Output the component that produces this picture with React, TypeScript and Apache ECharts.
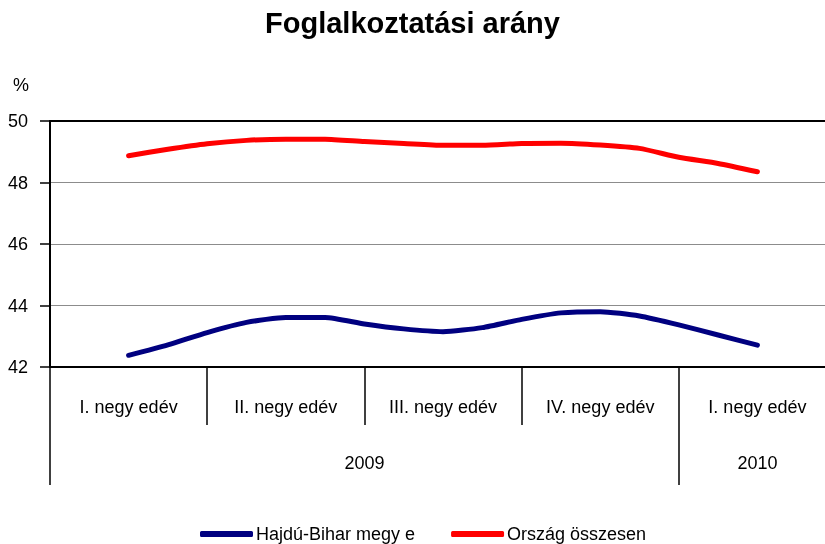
import React, { useEffect, useRef } from "react";
import * as echarts from "echarts";

const TITLE = "Foglalkoztatási arány";
const QUARTERS = ["I. negy edév", "II. negy edév", "III. negy edév", "IV. negy edév", "I. negy edév"];
const YEARS = [
  { label: "2009", from: 0, to: 4 },
  { label: "2010", from: 4, to: 5 },
];
const SERIES_NAMES = ["Hajdú-Bihar megy e", "Ország összesen"];
// readings at quarter-of-a-quarter steps, from I. 2009 to I. 2010
const HAJDU = [42.38, 42.72, 43.12, 43.45, 43.61, 43.61, 43.4, 43.24, 43.15, 43.28, 43.55, 43.76, 43.8, 43.66, 43.37, 43.04, 42.71];
const ORSZAG = [48.87, 49.08, 49.26, 49.37, 49.41, 49.41, 49.33, 49.27, 49.21, 49.21, 49.27, 49.28, 49.22, 49.11, 48.82, 48.62, 48.35];
const Y_MIN = 42;
const Y_MAX = 50;
const Y_STEP = 2;

const FONT = "'Liberation Sans', Arial, sans-serif";

export default function App() {
  const ref = useRef<HTMLDivElement>(null);
  useEffect(() => {
    document.body.style.margin = "0";
    const chart = echarts.init(ref.current!, undefined, { renderer: "svg" });
    const stepsPerQuarter = (HAJDU.length - 1) / (QUARTERS.length - 1);
    const toXY = (arr: number[]) => arr.map((v, i) => [i / stepsPerQuarter, v]);

    const nSlots = QUARTERS.length * 2 + 1;
    const slotNames = Array.from({ length: nSlots }, (_, i) => "s" + i);
    const yearLabelAt: Record<number, string> = {};
    const yearTickAt = new Set<number>();
    YEARS.forEach((y) => {
      yearLabelAt[y.from + y.to] = y.label;
      yearTickAt.add(y.from * 2);
      yearTickAt.add(y.to * 2);
    });

    chart.setOption({
      animation: false,
      textStyle: { fontFamily: FONT },
      title: {
        text: TITLE,
        left: "center",
        top: 3,
        textStyle: { fontFamily: FONT, fontSize: 29, fontWeight: "bold", color: "#000" },
      },
      legend: {
        top: 520,
        left: 195,
        icon: "roundRect",
        itemWidth: 53,
        itemHeight: 6,
        itemGap: 36,
        textStyle: { fontFamily: FONT, fontSize: 18, color: "#000", padding: [0, 0, 0, -2] },
        data: SERIES_NAMES,
      },
      grid: {
        left: 50,
        top: 121,
        width: 786,
        height: 246,
        containLabel: false,
        outerBoundsMode: "none",
      },
      xAxis: [
        { type: "value", min: -0.5, max: QUARTERS.length - 0.5, show: false },
        {
          type: "category",
          position: "bottom",
          data: QUARTERS,
          axisLine: { show: true, lineStyle: { color: "#000", width: 2 } },
          axisTick: { show: true, length: 58, interval: 0, lineStyle: { color: "#000", width: 1.5 } },
          axisLabel: { interval: 0, margin: 31, fontSize: 18, color: "#000", fontFamily: FONT },
        },
        {
          type: "category",
          position: "bottom",
          offset: 58,
          boundaryGap: false,
          data: slotNames,
          axisLine: { show: false },
          axisTick: {
            show: true,
            length: 60,
            interval: (i: number) => yearTickAt.has(i),
            lineStyle: { color: "#000", width: 1.5 },
          },
          axisLabel: {
            interval: 0,
            margin: 29,
            fontSize: 18,
            color: "#000",
            fontFamily: FONT,
            formatter: (_v: string, i: number) => yearLabelAt[i] || "",
          },
        },
        {
          type: "category",
          position: "top",
          data: QUARTERS,
          axisLine: { show: true, lineStyle: { color: "#000", width: 2 } },
          axisTick: { show: false },
          axisLabel: { show: false },
        },
      ],
      yAxis: {
        type: "value",
        min: Y_MIN,
        max: Y_MAX,
        interval: Y_STEP,
        name: "%",
        nameLocation: "end",
        nameGap: 27,
        nameTextStyle: { fontFamily: FONT, fontSize: 18, color: "#000", align: "right", padding: [0, 21, 0, 0] },
        axisLine: { show: true, onZero: false, lineStyle: { color: "#000", width: 2 } },
        axisTick: { show: true, length: 10, lineStyle: { color: "#000", width: 1.5 } },
        axisLabel: { margin: 22, fontSize: 18, color: "#000", fontFamily: FONT },
        splitLine: { show: true, lineStyle: { color: "#8c8c8c", width: 1 } },
      },
      series: [
        {
          name: SERIES_NAMES[0],
          type: "line",
          xAxisIndex: 0,
          data: toXY(HAJDU),
          smooth: 0.2,
          showSymbol: false,
          color: "#000080",
          lineStyle: { width: 5, color: "#000080", cap: "round", join: "round" },
        },
        {
          name: SERIES_NAMES[1],
          type: "line",
          xAxisIndex: 0,
          data: toXY(ORSZAG),
          smooth: 0.2,
          showSymbol: false,
          color: "#ff0000",
          lineStyle: { width: 5, color: "#ff0000", cap: "round", join: "round" },
        },
      ],
    });
    return () => chart.dispose();
  }, []);
  return <div ref={ref} style={{ position: "fixed", left: 0, top: 0, width: 825, height: 544 }} />;
}
